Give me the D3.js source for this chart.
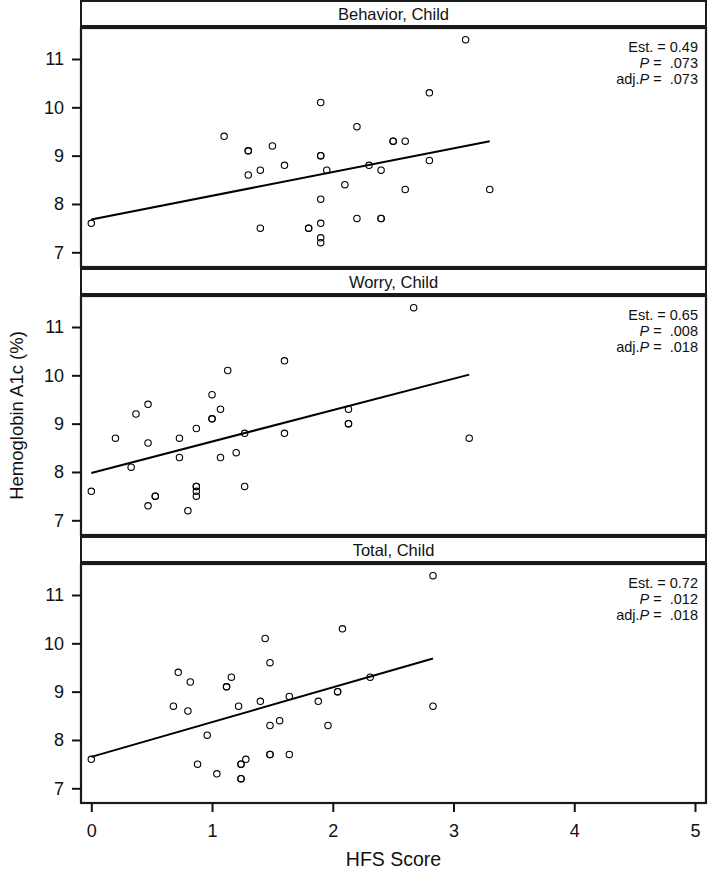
<!DOCTYPE html>
<html>
<head>
<meta charset="utf-8">
<script src="https://cdn.jsdelivr.net/npm/d3@7"></script>
<style>
  html, body { margin: 0; padding: 0; background: #fff; }
  svg { display: block; font-family: "Liberation Sans", Arial, Helvetica, sans-serif; }
</style>
</head>
<body>
<svg id="chart" width="709" height="880"></svg>
<script>
// ---- Data ----
const panelTitles = ["Behavior, Child", "Worry, Child", "Total, Child"];

const behaviorX = [0, 1.1, 1.3, 1.3, 1.5, 1.6, 1.3, 1.4, 1.4, 3.1, 2.8, 1.9, 2.2, 2.5, 2.5, 2.6, 1.9, 1.9, 2.8, 1.95, 2.3, 2.4, 2.1, 2.6, 3.3, 1.9, 2.2, 2.4, 2.4, 1.8, 1.8, 1.9, 1.9, 1.9];
const behaviorY = [7.6, 9.4, 9.1, 9.1, 9.2, 8.8, 8.6, 8.7, 7.5, 11.4, 10.3, 10.1, 9.6, 9.3, 9.3, 9.3, 9.0, 9.0, 8.9, 8.7, 8.8, 8.7, 8.4, 8.3, 8.3, 8.1, 7.7, 7.7, 7.7, 7.5, 7.5, 7.6, 7.3, 7.2];

const worryX = [0, 1.6, 1.13, 1.0, 0.47, 0.37, 1.07, 1.0, 1.0, 0.87, 0.2, 0.73, 0.47, 1.27, 1.6, 0.73, 1.07, 1.2, 0.33, 1.27, 0.87, 0.87, 0.87, 0.87, 0.53, 0.53, 0.47, 0.8, 2.67, 2.13, 2.13, 2.13, 3.13];
const worryY = [7.6, 10.3, 10.1, 9.6, 9.4, 9.2, 9.3, 9.1, 9.1, 8.9, 8.7, 8.7, 8.6, 8.8, 8.8, 8.3, 8.3, 8.4, 8.1, 7.7, 7.7, 7.7, 7.6, 7.5, 7.5, 7.5, 7.3, 7.2, 11.4, 9.3, 9.0, 9.0, 8.7];

const totalX = [0, 1.44, 1.48, 0.72, 0.82, 1.16, 1.12, 1.12, 1.64, 0.68, 0.8, 1.22, 1.4, 1.48, 1.56, 0.96, 1.48, 1.48, 1.64, 0.88, 1.28, 1.24, 1.24, 1.04, 1.24, 1.24, 2.83, 2.08, 2.31, 2.04, 2.04, 1.88, 1.96, 2.83];
const totalY = [7.6, 10.1, 9.6, 9.4, 9.2, 9.3, 9.1, 9.1, 8.9, 8.7, 8.6, 8.7, 8.8, 8.3, 8.4, 8.1, 7.7, 7.7, 7.7, 7.5, 7.6, 7.5, 7.5, 7.3, 7.2, 7.2, 11.4, 10.3, 9.3, 9.0, 9.0, 8.8, 8.3, 8.7];

const fitIntercept = [7.68, 7.98, 7.65];
const fitSlope = [0.49, 0.65, 0.72];
const fitXMax = [3.3, 3.13, 2.83];

const estLabels = ["0.49", "0.65", "0.72"];
const pLabels = [".073", ".008", ".012"];
const adjPLabels = [".073", ".018", ".018"];

const xTicks = [0, 1, 2, 3, 4, 5];
const yTicks = [7, 8, 9, 10, 11];
const xTitle = "HFS Score";
const yTitle = "Hemoglobin A1c (%)";

// ---- Layout ----
const svg = d3.select("#chart");
const left = 81, right = 706;
const panelStep = 268;
const stripH = 26, plotTop = 28, plotBottom = 267;

const x = d3.scaleLinear().domain([0, 5]).range([91.3, 695]);

const seriesX = [behaviorX, worryX, totalX];
const seriesY = [behaviorY, worryY, totalY];

panelTitles.forEach((title, i) => {
  const T = i * panelStep;
  const g = svg.append("g");
  const y = d3.scaleLinear().domain([7, 11]).range([T + 252.3, T + 59]);

  // strip
  g.append("rect")
    .attr("x", left).attr("y", T + 1)
    .attr("width", right - left).attr("height", stripH - 1)
    .attr("fill", "#fff").attr("stroke", "#1a1a1a").attr("stroke-width", 2);
  g.append("text")
    .attr("x", (left + right) / 2).attr("y", T + 14)
    .attr("dy", "0.36em").attr("text-anchor", "middle")
    .attr("font-size", 16.5).attr("fill", "#111")
    .text(title);

  // plot box
  g.append("rect")
    .attr("x", left).attr("y", T + plotTop)
    .attr("width", right - left).attr("height", plotBottom - plotTop)
    .attr("fill", "#fff").attr("stroke", "#1a1a1a").attr("stroke-width", 2.2);

  // y axis
  const yAxis = g.append("g")
    .attr("transform", `translate(${left},0)`)
    .call(d3.axisLeft(y).tickValues(yTicks).tickSize(9).tickPadding(8).tickFormat(d3.format("d")));
  yAxis.select(".domain").remove();
  yAxis.selectAll(".tick line").attr("stroke", "#111").attr("stroke-width", 2);
  yAxis.selectAll(".tick text")
    .attr("font-size", 18).attr("fill", "#111")
    .attr("font-family", "'Liberation Sans', Arial, sans-serif");

  // regression line
  const xs = [0, fitXMax[i]];
  g.append("path")
    .datum(xs)
    .attr("d", d3.line().x(d => x(d)).y(d => y(fitIntercept[i] + fitSlope[i] * d)))
    .attr("fill", "none").attr("stroke", "#000").attr("stroke-width", 2);

  // points
  const pts = seriesX[i].map((v, k) => ({ x: v, y: seriesY[i][k] }));
  g.selectAll("circle.pt").data(pts).enter().append("circle")
    .attr("class", "pt")
    .attr("cx", d => x(d.x)).attr("cy", d => y(d.y))
    .attr("r", 3.2)
    .attr("fill", "none").attr("stroke", "#000").attr("stroke-width", 1.1);

  // annotations
  const ax = 698, fs = 14.5;
  const t1 = g.append("text").attr("x", ax).attr("y", T + 52)
    .attr("text-anchor", "end").attr("font-size", fs).attr("fill", "#111");
  t1.text(`Est. = ${estLabels[i]}`);

  const t2 = g.append("text").attr("x", ax).attr("y", T + 68)
    .attr("text-anchor", "end").attr("font-size", fs).attr("fill", "#111");
  t2.append("tspan").attr("font-style", "italic").text("P");
  t2.append("tspan").text(`\u00a0=\u00a0 ${pLabels[i]}`);

  const t3 = g.append("text").attr("x", ax).attr("y", T + 84)
    .attr("text-anchor", "end").attr("font-size", fs).attr("fill", "#111");
  t3.append("tspan").text("adj.");
  t3.append("tspan").attr("font-style", "italic").text("P");
  t3.append("tspan").text(`\u00a0=\u00a0 ${adjPLabels[i]}`);
});

// x axis below last panel
const xBase = 2 * panelStep + plotBottom;
const xAxis = svg.append("g")
  .attr("transform", `translate(0,${xBase})`)
  .call(d3.axisBottom(x).tickValues(xTicks).tickSize(9).tickPadding(12).tickFormat(d3.format("d")));
xAxis.select(".domain").remove();
xAxis.selectAll(".tick line").attr("stroke", "#111").attr("stroke-width", 2);
xAxis.selectAll(".tick text")
  .attr("font-size", 18).attr("fill", "#111")
  .attr("font-family", "'Liberation Sans', Arial, sans-serif");

// axis titles
svg.append("text")
  .attr("x", (left + right) / 2).attr("y", 866)
  .attr("text-anchor", "middle").attr("font-size", 19.5).attr("fill", "#111")
  .text(xTitle);

svg.append("text")
  .attr("transform", `translate(23,${(panelStep + plotTop + panelStep + plotBottom) / 2}) rotate(-90)`)
  .attr("text-anchor", "middle").attr("font-size", 18.5).attr("fill", "#111")
  .text(yTitle);
</script>
</body>
</html>
